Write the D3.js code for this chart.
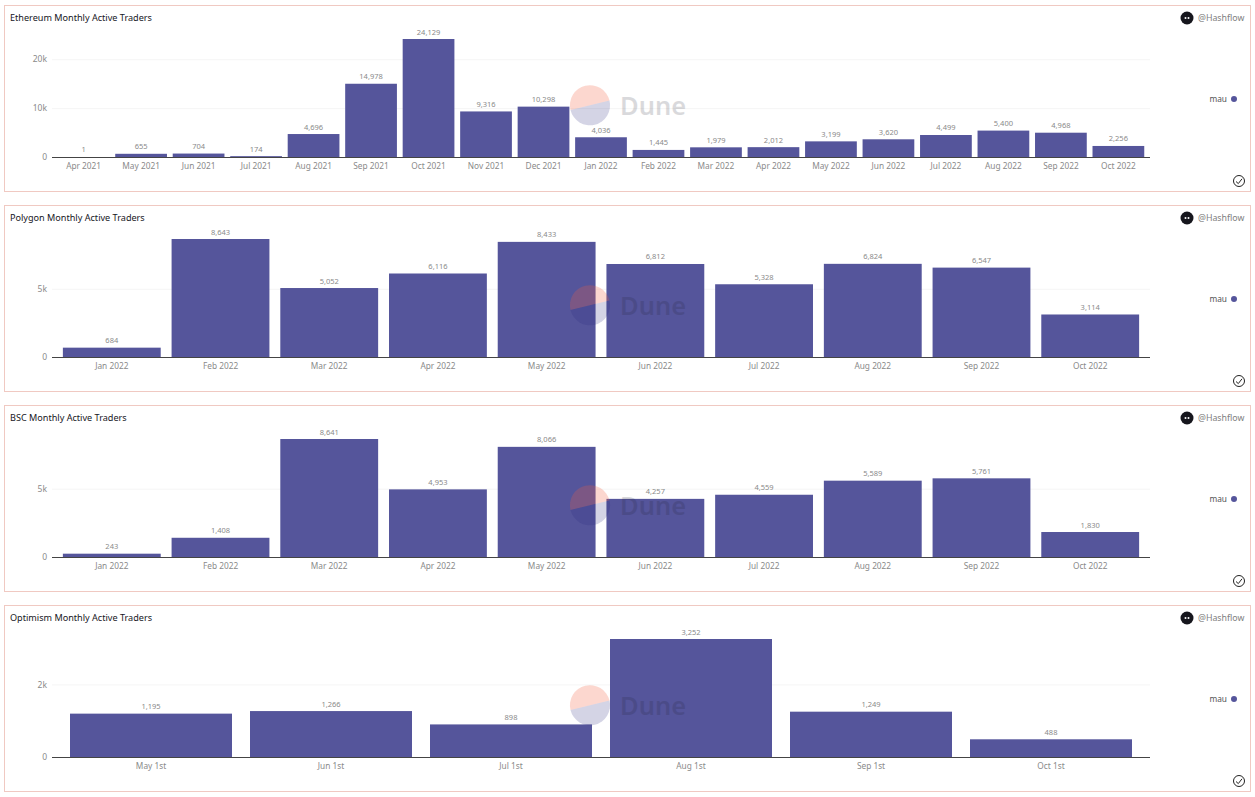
<!DOCTYPE html>
<html>
  <head>
    <meta charset="utf-8">
    <title>Hashflow monthly active traders</title>
    <script src="https://d3js.org/d3.v7.min.js"></script>
    <style>
      html, body { margin: 0; background: #fff; }
      svg { display: block; }
      text { font-family: "Noto Sans", sans-serif; }
      .domain { display: none; }
    </style>
  </head>
  <body>
    <div id="chart"></div>
    <script>
      // data
      const ethMonths = ["Apr 2021", "May 2021", "Jun 2021", "Jul 2021", "Aug 2021", "Sep 2021", "Oct 2021", "Nov 2021", "Dec 2021", "Jan 2022", "Feb 2022", "Mar 2022", "Apr 2022", "May 2022", "Jun 2022", "Jul 2022", "Aug 2022", "Sep 2022", "Oct 2022"];
      const ethValues = [1, 655, 704, 174, 4696, 14978, 24129, 9316, 10298, 4036, 1445, 1979, 2012, 3199, 3620, 4499, 5400, 4968, 2256];
      const ethTicks = [0, 10000, 20000];

      const polygonMonths = ["Jan 2022", "Feb 2022", "Mar 2022", "Apr 2022", "May 2022", "Jun 2022", "Jul 2022", "Aug 2022", "Sep 2022", "Oct 2022"];
      const polygonValues = [684, 8643, 5052, 6116, 8433, 6812, 5328, 6824, 6547, 3114];
      const polygonTicks = [0, 5000];

      const bscMonths = polygonMonths;
      const bscValues = [243, 1408, 8641, 4953, 8066, 4257, 4559, 5589, 5761, 1830];
      const bscTicks = [0, 5000];

      const optimismMonths = ["May 1st", "Jun 1st", "Jul 1st", "Aug 1st", "Sep 1st", "Oct 1st"];
      const optimismValues = [1195, 1266, 898, 3252, 1249, 488];
      const optimismTicks = [0, 2000];

      const panels = [
        { title: "Ethereum Monthly Active Traders", cats: ethMonths, vals: ethValues, ticks: ethTicks },
        { title: "Polygon Monthly Active Traders", cats: polygonMonths, vals: polygonValues, ticks: polygonTicks },
        { title: "BSC Monthly Active Traders", cats: bscMonths, vals: bscValues, ticks: bscTicks },
        { title: "Optimism Monthly Active Traders", cats: optimismMonths, vals: optimismValues, ticks: optimismTicks }
      ];

      const barColor = "#55559b";
      const svg = d3.select("#chart").append("svg")
        .attr("width", 1255)
        .attr("height", 797);

      panels.forEach(function(p, i) {
        const g = svg.append("g").attr("transform", "translate(0," + (200 * i) + ")");

        // card
        g.append("rect")
          .attr("x", 4.5).attr("y", 5.5)
          .attr("width", 1246).attr("height", 186)
          .attr("fill", "#fff")
          .attr("stroke", "#f0c9c2");

        g.append("text")
          .attr("x", 10).attr("y", 21)
          .attr("font-size", 9.1)
          .attr("fill", "#16161d")
          .text(p.title);

        const x = d3.scaleBand()
          .domain(p.cats)
          .range([52, 1150])
          .paddingInner(0.1)
          .paddingOuter(0.1);
        const y = d3.scaleLinear()
          .domain([0, d3.max(p.vals)])
          .range([157, 39]);

        // y axis + gridlines
        const yAxis = g.append("g")
          .attr("transform", "translate(52,0)")
          .call(d3.axisLeft(y)
            .tickValues(p.ticks)
            .tickSize(-1098)
            .tickPadding(5)
            .tickFormat(function(d) { return d === 0 ? "0" : d / 1000 + "k"; }));
        yAxis.selectAll("line").attr("stroke", "#f5f5f5");
        yAxis.selectAll("text").attr("font-size", 8.5).attr("fill", "#8a8a8a").attr("font-family", null);

        // bars
        g.selectAll(".bar")
          .data(p.vals)
          .enter().append("rect")
            .attr("class", "bar")
            .attr("x", function(d, j) { return x(p.cats[j]); })
            .attr("y", function(d) { return y(d); })
            .attr("width", x.bandwidth())
            .attr("height", function(d) { return y(0) - y(d); })
            .attr("fill", barColor);

        g.selectAll(".val")
          .data(p.vals)
          .enter().append("text")
            .attr("class", "val")
            .attr("x", function(d, j) { return x(p.cats[j]) + x.bandwidth() / 2; })
            .attr("y", function(d) { return y(d) - 4.5; })
            .attr("text-anchor", "middle")
            .attr("font-size", 7.5)
            .attr("fill", "#8a8a8a")
            .text(d3.format(","));

        // x axis
        const xAxis = g.append("g")
          .attr("transform", "translate(0,157)")
          .call(d3.axisBottom(x).tickSize(0).tickPadding(6));
        xAxis.selectAll("text").attr("font-size", 8.3).attr("fill", "#8a8a8a").attr("font-family", null);
        g.append("line")
          .attr("x1", 52).attr("x2", 1150)
          .attr("y1", 157.5).attr("y2", 157.5)
          .attr("stroke", "#444");

        // Dune watermark
        const mark = g.append("g").attr("transform", "translate(590,105)");
        mark.append("path")
          .attr("d", "M-19.5,5 A20,20 0 1 1 19.5,-4.5 Z")
          .attr("fill", "#f4603e").attr("opacity", 0.25);
        mark.append("path")
          .attr("d", "M-19.5,5 A20,20 0 0 0 19.5,-4.5 Z")
          .attr("fill", "#2a2a7c").attr("opacity", 0.2);
        g.append("text")
          .attr("x", 620).attr("y", 115)
          .attr("font-size", 25.5)
          .attr("font-weight", 600)
          .attr("fill", "#1c1c2a")
          .attr("opacity", 0.16)
          .text("Dune");

        // owner badge
        g.append("circle").attr("cx", 1187).attr("cy", 18).attr("r", 6.5).attr("fill", "#16161d");
        g.append("circle").attr("cx", 1185.5).attr("cy", 18).attr("r", 1).attr("fill", "#fff");
        g.append("circle").attr("cx", 1188.5).attr("cy", 18).attr("r", 1).attr("fill", "#fff");
        g.append("text")
          .attr("x", 1198).attr("y", 21)
          .attr("font-size", 8.8)
          .attr("fill", "#808080")
          .text("@Hashflow");

        // legend
        g.append("text")
          .attr("x", 1227).attr("y", 102)
          .attr("text-anchor", "end")
          .attr("font-size", 8.3)
          .attr("fill", "#555")
          .text("mau");
        g.append("circle").attr("cx", 1234).attr("cy", 99).attr("r", 3).attr("fill", barColor);

        // check mark
        g.append("circle")
          .attr("cx", 1239).attr("cy", 181).attr("r", 5.5)
          .attr("fill", "none").attr("stroke", "#222").attr("stroke-width", 1);
        g.append("path")
          .attr("d", "M1236,181.5 L1238.3,183.6 L1242,178.8")
          .attr("fill", "none").attr("stroke", "#222").attr("stroke-width", 1);
      });
    </script>
  </body>
</html>
